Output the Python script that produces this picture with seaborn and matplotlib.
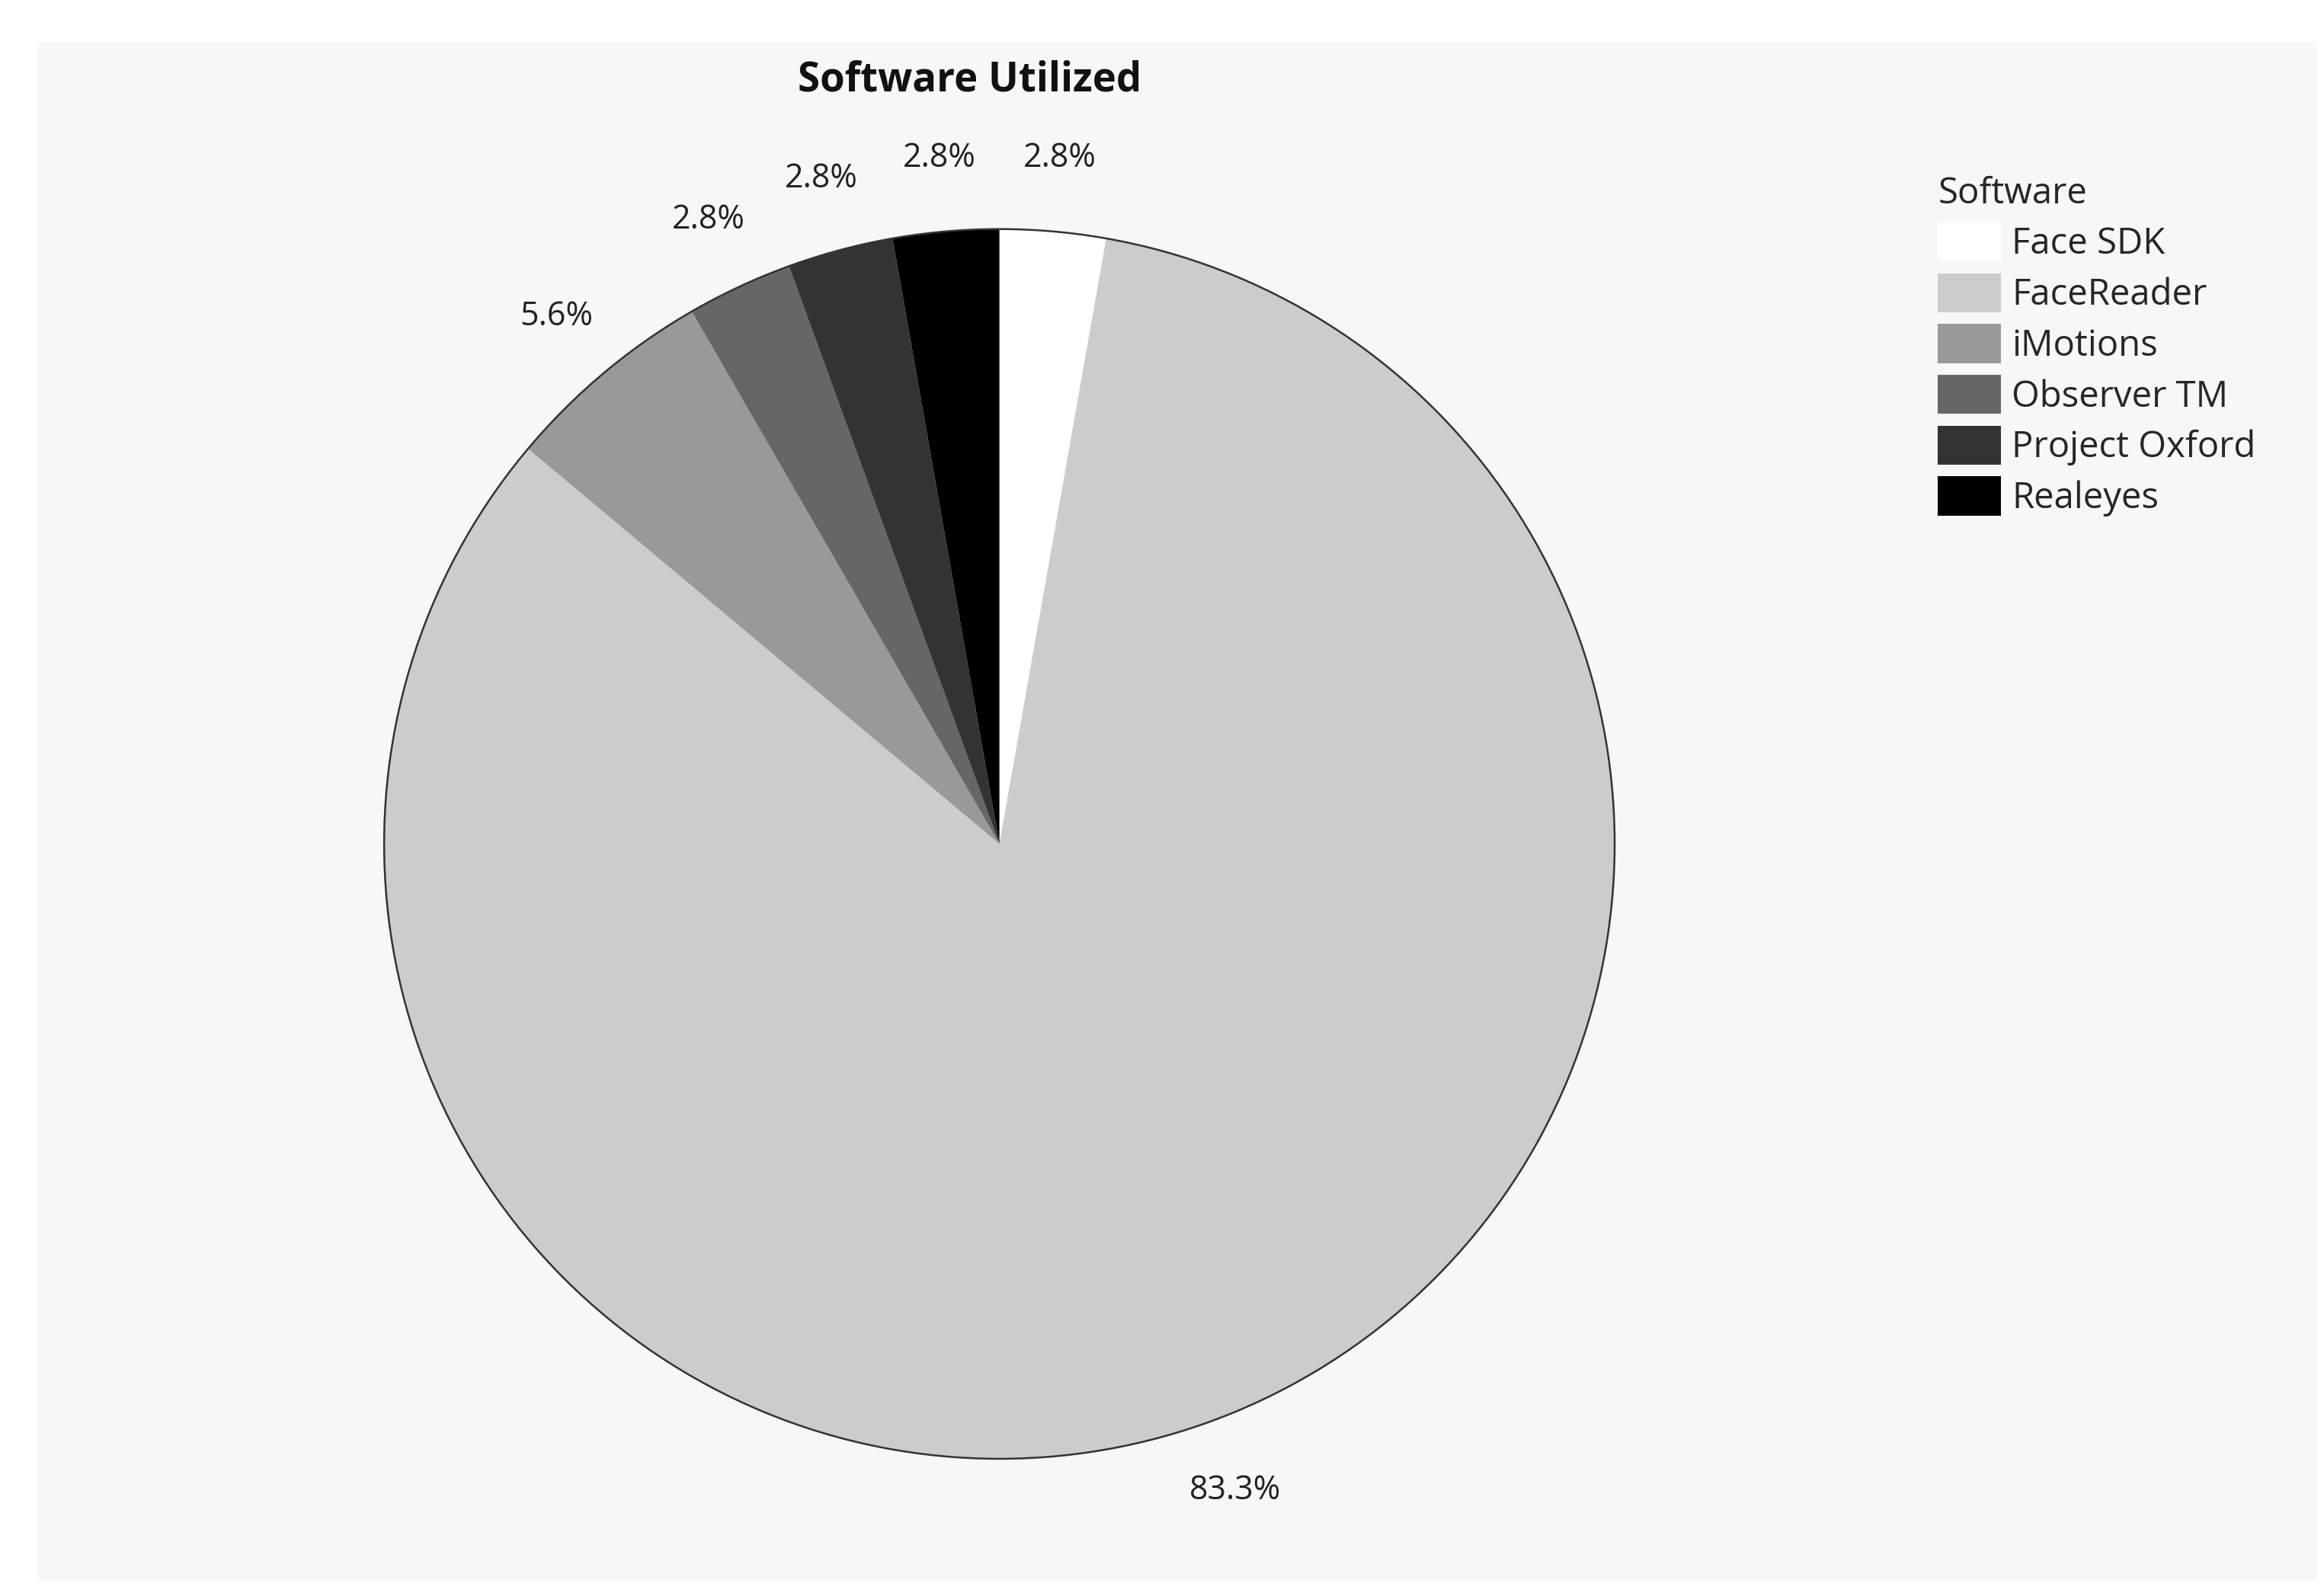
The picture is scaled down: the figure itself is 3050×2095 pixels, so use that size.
import matplotlib
matplotlib.use("Agg")
import matplotlib.pyplot as plt
import seaborn as sns
from matplotlib.patches import Rectangle

sns.set_theme(style="white")
plt.rcParams['font.family'] = ['Open Sans', 'DejaVu Sans']

software = ["Face SDK", "FaceReader", "iMotions", "Observer TM", "Project Oxford", "Realeyes"]
counts = [1, 30, 2, 1, 1, 1]
colors = ["#ffffff", "#cccccc", "#999999", "#666666", "#333333", "#000000"]

W, H = 1560, 1072
fig = plt.figure(figsize=(15.25, 10.475), dpi=200, facecolor="white")
fig.patches.append(Rectangle((25/W, 1-1062/H), (1555-25)/W, (1062-28)/H,
                             transform=fig.transFigure, facecolor="#f7f7f7",
                             edgecolor="none", zorder=-10))
ax = fig.add_axes([72/W, 1-1055/H, (1273-72)/W, (1055-82)/H])
wedges, texts, autotexts = ax.pie(counts, colors=colors, startangle=90, counterclock=False,
                                  autopct="%.1f%%", pctdistance=1.12, radius=1,
                                  wedgeprops=dict(edgecolor="none"),
                                  textprops=dict(fontsize=15.5, color="#222222"))
ax.pie([1], colors=["none"], radius=1, wedgeprops=dict(edgecolor="#333333", linewidth=0.9))
ax.axis("on")
ax.set_facecolor("white")
ax.set_xlim(-1.450, 1.458)
ax.set_ylim(-1.182, 1.174)
ax.set_aspect("auto")
ax.set_xticks([]); ax.set_yticks([])
for s in ax.spines.values():
    s.set_visible(True); s.set_color("#a0a0a0"); s.set_linewidth(1.2)

fig.text(651/W, 1-54/H, "Software Utilized", ha="center", va="center",
         fontsize=19, fontweight="bold", color="#111111")

leg = fig.legend(wedges, software, title="Software", loc="upper left",
                 bbox_to_anchor=(1279/W, 1-96/H), frameon=False, fontsize=17,
                 title_fontsize=17, handlelength=1.75, handleheight=1.3,
                 handletextpad=0.3, labelspacing=0.3, alignment="left")
for h in leg.legend_handles:
    h.set_edgecolor("none")

fig.savefig("out.png", dpi=200, facecolor="white")
